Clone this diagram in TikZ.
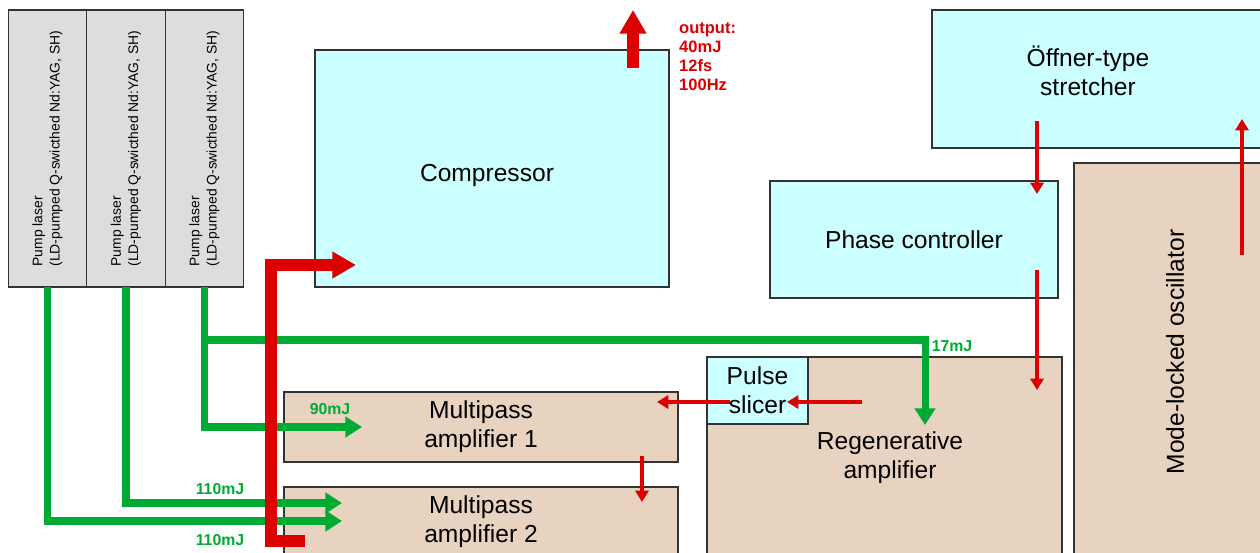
\documentclass[tikz,border=0pt]{standalone}
\usepackage{fontspec}
\setmainfont{Liberation Sans}
\usepackage{xcolor}
\usepackage{tikz}
\usetikzlibrary{arrows.meta, positioning}
\definecolor{cyanbox}{HTML}{CCFFFF}
\definecolor{tanbox}{HTML}{E8D3C0}
\definecolor{graybox}{HTML}{DDDDDD}
\definecolor{boxline}{HTML}{333333}
\definecolor{beamred}{HTML}{DD0000}
\definecolor{pumpgreen}{HTML}{00AA33}
\tikzset{
  box/.style    = {rectangle, draw=boxline, line width=0.8pt, inner sep=0pt, outer sep=0pt,
                   align=center, font=\fontsize{14}{16.5}\selectfont},
  boxC/.style   = {box, fill=cyanbox},
  boxT/.style   = {box, fill=tanbox},
  boxP/.style   = {box, fill=graybox, rotate=90, align=left,
                   minimum width=5.54cm, minimum height=1.57cm,
                   font=\fontsize{7.9}{9.8}\selectfont},
  txt/.style    = {align=center, font=\fontsize{14}{16.5}\selectfont},
  glbl/.style   = {text=pumpgreen, font=\bfseries\fontsize{9}{11}\selectfont},
  olbl/.style   = {text=beamred, align=left, font=\bfseries\fontsize{9.4}{10.8}\selectfont},
  garrow/.style = {pumpgreen, line width=4pt, -{Triangle[length=9.5pt,width=11.5pt]}},
  rarrow/.style = {beamred, line width=2.1pt, -{Triangle[length=6.5pt,width=7.5pt]}},
  barrow/.style = {beamred, line width=6.8pt, -{Triangle[length=13.5pt,width=14.5pt]}},
}
\begin{document}
\begin{tikzpicture}[x=0.02cm, y=-0.02cm]
    \useasboundingbox (0,0) rectangle (1260,553);
    \clip (0,0) rectangle (1260,553);

    %% Pump lasers
    \node[boxP] (pl1) at ( 47.5, 148.5) {Pump laser\\(LD-pumped Q-swicthed Nd:YAG, SH)};
    \node[boxP] (pl2) at (126,   148.5) {Pump laser\\(LD-pumped Q-swicthed Nd:YAG, SH)};
    \node[boxP] (pl3) at (204.5, 148.5) {Pump laser\\(LD-pumped Q-swicthed Nd:YAG, SH)};

    %% Beam line boxes
    \node[boxC, minimum width=7.08cm, minimum height=4.74cm] (comp) at (492, 168.5) {};
    \node[txt] (comptxt) at (487, 175) {Compressor};
    \node[boxC, minimum width=6.86cm, minimum height=2.76cm] (str)  at (1103.5, 79) {};
    \node[txt] (strtxt) at (1088, 71) {Öffner-type\\stretcher};
    \node[boxC, minimum width=5.76cm, minimum height=2.34cm] (pc)   at (914, 239.5) {Phase controller};
    \node[boxT, minimum width=4.02cm, minimum height=8.14cm] (osc)  at (1174.5, 366.5) {};
    \node[txt, rotate=90] (osctxt) at (1175, 352) {Mode-locked oscillator};
    \node[boxT, minimum width=7.1cm,  minimum height=4.26cm] (regen) at (884.5, 463.5) {};
    \node[txt] (regentxt) at (890, 458) {Regenerative\\amplifier};
    \node[boxC, minimum width=2.02cm, minimum height=1.34cm] (ps)   at (757.5, 390.5) {Pulse\\slicer};
    \node[boxT, minimum width=7.88cm, minimum height=1.4cm]  (mpa1) at (481, 427) {Multipass\\amplifier 1};
    \node[boxT, minimum width=7.88cm, minimum height=1.66cm] (mpa2) at (481, 528.5) {};
    \node[txt] (mpa2txt) at (481, 522) {Multipass\\amplifier 2};

    %% Beam end points
    \coordinate (tap)     at (204.5, 340);
    \coordinate (mpa1in)  at (362, 427);
    \coordinate (mpa2inA) at (342, 503);
    \coordinate (mpa2inB) at (342, 521);
    \coordinate (regenin) at (925, 425);
    \coordinate (mpa2out) at (305, 541);
    \coordinate (compin)  at (356, 265);
    \coordinate (compout) at (633, 68);
    \coordinate (outtip)  at (633, 10);

    %% Pump beams
    \draw[garrow] (pl1.west) |- (mpa2inB);
    \draw[garrow] (pl2.west) |- (mpa2inA);
    \draw[garrow] (pl3.west) |- (mpa1in);
    \draw[garrow] (tap) -| (regenin);
    \node[glbl] (e17)   at (952, 346) {17mJ};
    \node[glbl] (e90)   at (330, 409) {90mJ};
    \node[glbl] (e110a) at (220, 489) {110mJ};
    \node[glbl] (e110b) at (220, 540) {110mJ};

    %% Amplified beam and output
    \draw[barrow] (mpa2out) -- ++(-34,0) |- (compin);
    \draw[barrow] (compout) -- (outtip);
    \node[olbl, anchor=north west] (outtxt) at (673, 17) {output:\\40mJ\\12fs\\100Hz};

    %% Seed beam
    \draw[rarrow] (1242,255) -- (1242,119);
    \draw[rarrow] (1037,121) -- (1037,194);
    \draw[rarrow] (1037,270) -- (1037,390);
    \draw[rarrow] (862,402) -- (787,402);
    \draw[rarrow] (730,402) -- (657,402);
    \draw[rarrow] (642,456) -- (642,502);

  \end{tikzpicture}
\end{document}
